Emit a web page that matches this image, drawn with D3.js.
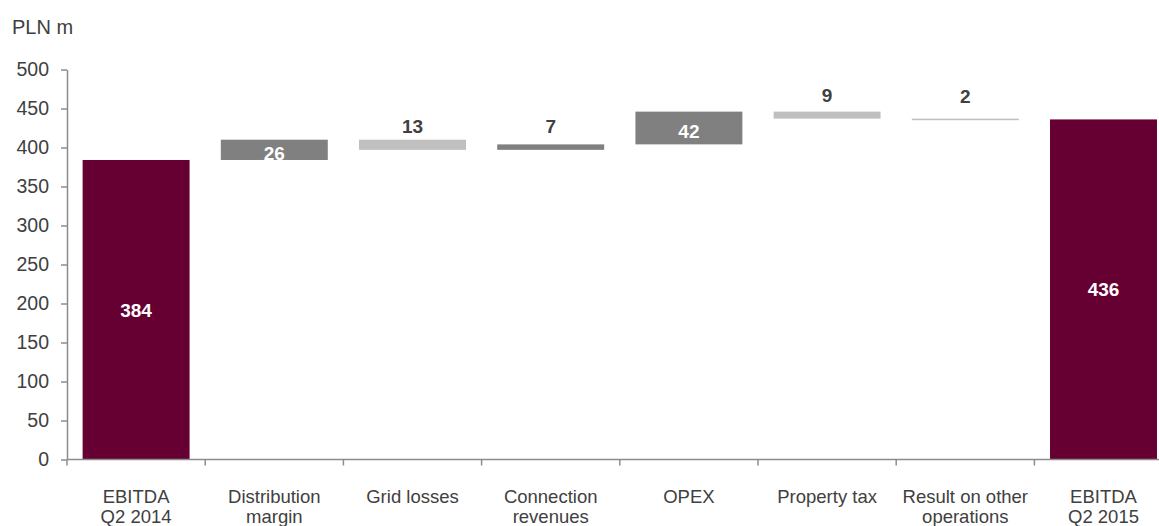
<!DOCTYPE html>
<html>
<head>
<meta charset="utf-8">
<script src="https://cdn.jsdelivr.net/npm/d3@7"></script>
<style>
  html, body { margin: 0; padding: 0; background: #ffffff; }
  svg { display: block; font-family: "Liberation Sans", Arial, sans-serif; }
</style>
</head>
<body>
<svg id="chart" width="1159" height="526"></svg>
<script>
// EBITDA bridge, Q2 2014 -> Q2 2015 (PLN m)
const categories = [
  ["EBITDA", "Q2 2014"],
  ["Distribution", "margin"],
  ["Grid losses"],
  ["Connection", "revenues"],
  ["OPEX"],
  ["Property tax"],
  ["Result on other", "operations"],
  ["EBITDA", "Q2 2015"]
];
const startValue = 384;
const changes = [26, -13, 7, 42, -9, -2];
const endValue = 436;
const yTicks = [0, 50, 100, 150, 200, 250, 300, 350, 400, 450, 500];

const colorTotal = "#660033";
const colorUp = "#808080";
const colorDown = "#c0c0c0";
const textDark = "#404040";

// build the step list: totals start at 0, changes float on the running total
const steps = [];
let running = startValue;
steps.push({ i: 0, lo: 0, hi: startValue, value: startValue, kind: "total" });
changes.forEach((c, k) => {
  const a = running, b = running + c;
  steps.push({ i: k + 1, lo: Math.min(a, b), hi: Math.max(a, b), value: Math.abs(c), kind: c >= 0 ? "up" : "down" });
  running = b;
});
steps.push({ i: categories.length - 1, lo: 0, hi: endValue, value: endValue, kind: "total" });

const svg = d3.select("#chart");
const plotLeft = 67, plotTop = 69.5, plotBottom = 459.5;
const bandStep = 138.2;

const x = d3.scaleBand()
  .domain(d3.range(categories.length))
  .range([plotLeft, plotLeft + bandStep * categories.length])
  .paddingInner(0.226)
  .paddingOuter(0.113);

const y = d3.scaleLinear().domain([0, 500]).range([plotBottom, plotTop]);

// y axis
const yAxis = svg.append("g")
  .attr("transform", `translate(${plotLeft},0)`)
  .call(d3.axisLeft(y).tickValues(yTicks).tickSize(6).tickSizeOuter(0).tickPadding(12));
yAxis.select(".domain").attr("stroke", "#8c8c8c").attr("stroke-width", 1.5);
yAxis.selectAll(".tick line").attr("stroke", "#8c8c8c").attr("stroke-width", 1.5);
yAxis.selectAll(".tick text")
  .attr("fill", textDark)
  .style("font-family", "'Liberation Sans', Arial, sans-serif")
  .style("font-size", "19.5px");

// bars
svg.append("g").selectAll("rect")
  .data(steps)
  .join("rect")
  .attr("x", d => x(d.i))
  .attr("width", x.bandwidth())
  .attr("y", d => y(d.hi))
  .attr("height", d => Math.max(1, y(d.lo) - y(d.hi)))
  .attr("fill", d => d.kind === "total" ? colorTotal : d.kind === "up" ? colorUp : colorDown);

// x axis line and category boundary ticks
const xAxis = svg.append("g");
xAxis.append("line")
  .attr("x1", plotLeft).attr("x2", plotLeft + bandStep * categories.length)
  .attr("y1", plotBottom).attr("y2", plotBottom)
  .attr("stroke", "#8c8c8c").attr("stroke-width", 1.5);
xAxis.selectAll("line.tick")
  .data(d3.range(categories.length + 1))
  .join("line")
  .attr("class", "tick")
  .attr("x1", i => x(0) - x.step() * x.paddingOuter() + i * x.step())
  .attr("x2", i => x(0) - x.step() * x.paddingOuter() + i * x.step())
  .attr("y1", plotBottom).attr("y2", plotBottom + 6)
  .attr("stroke", "#8c8c8c").attr("stroke-width", 1.5);

// category labels
const catText = svg.append("g").selectAll("text")
  .data(categories)
  .join("text")
  .attr("text-anchor", "middle")
  .attr("fill", textDark)
  .style("font-size", "18.5px");
catText.selectAll("tspan")
  .data((lines, i) => lines.map((t, k) => ({ t, k, i })))
  .join("tspan")
  .attr("x", d => x(d.i) + x.bandwidth() / 2)
  .attr("y", d => 503 + d.k * 20)
  .text(d => d.t);

// value labels: inside large bars (white), above small ones (dark)
const insideMin = 20;
svg.append("g").selectAll("text")
  .data(steps)
  .join("text")
  .attr("text-anchor", "middle")
  .style("font-size", "19px")
  .style("font-weight", "bold")
  .attr("fill", d => (d.kind === "total" || d.value >= insideMin) ? "#ffffff" : textDark)
  .attr("x", d => x(d.i) + x.bandwidth() / 2)
  .attr("y", d => {
    if (d.kind === "total") return (y(d.lo) + y(d.hi)) / 2 + 7;
    if (d.value >= insideMin) return (y(d.lo) + y(d.hi)) / 2 + 10;
    return y(d.lo) - 24 + 7;
  })
  .text(d => d.value);

// unit label
svg.append("text")
  .attr("x", 12)
  .attr("y", 34)
  .attr("fill", textDark)
  .style("font-size", "20px")
  .text("PLN m");
</script>
</body>
</html>
